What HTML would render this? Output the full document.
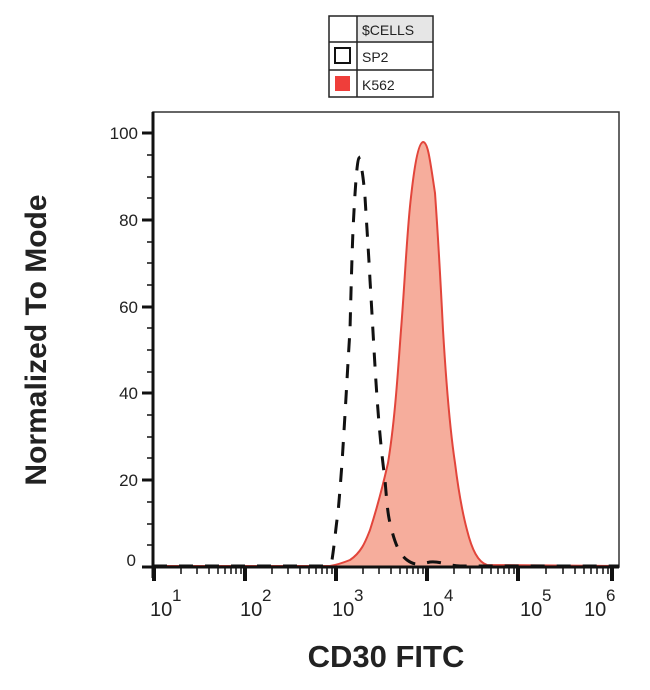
<!DOCTYPE html>
<html><head><meta charset="utf-8"><style>
html,body{margin:0;padding:0;background:#fff;}
svg{display:block;font-family:"Liberation Sans",sans-serif;}
</style></head><body>
<svg width="650" height="690" viewBox="0 0 650 690" xmlns="http://www.w3.org/2000/svg">
<g stroke="#222" stroke-width="1.5" fill="none">
<rect x="329" y="16" width="104" height="81"/>
<line x1="329" y1="42" x2="433" y2="42"/>
<line x1="329" y1="70" x2="433" y2="70"/>
<line x1="357" y1="16" x2="357" y2="97"/>
</g>
<rect x="358" y="17" width="74" height="24" fill="#e6e6e6"/>
<rect x="335" y="48" width="15" height="15" fill="#fff" stroke="#111" stroke-width="2"/>
<rect x="335" y="76" width="15" height="15" fill="#ef3e3a"/>
<g font-size="14" fill="#222">
<text x="362" y="35">$CELLS</text>
<text x="362" y="62">SP2</text>
<text x="362" y="90">K562</text>
</g>
<rect x="153" y="112" width="466" height="455" fill="none" stroke="#333" stroke-width="1.5"/>
<path d="M153,566 L330,566 C336,565 340,564 350,560 C362,552 366,540 370,530 C378,505 383,485 388,463 C395,420 398,370 401,330 C405,280 407,230 411,197 C414,170 418,143 423,142 C428,142 430,160 435,193 C439,250 441,290 443,330 C446,380 450,430 455,463 C459,495 463,515 467,530 C472,550 478,562 487,565 L619,566" fill="#f6ad9c" stroke="#e2453b" stroke-width="2"/>
<path d="M153,566 L325,566 C329,565 330,563 332,560 C335,540 336,525 338,513 C340,490 342,465 343,447 C346,400 348,360 350,330 C351,290 352,255 353,230 C355,190 357,160 359,158 C362,165 364,185 365,197 C367,230 369,260 370,280 C373,330 375,370 377,397 C380,440 383,465 385,480 C387,505 388,515 390,523 C395,545 400,555 407,560 C415,566 420,564 430,562 C440,561 445,565 460,566 L619,566" fill="none" stroke="#111" stroke-width="3" stroke-dasharray="14,12"/>
<line x1="153" y1="112" x2="153" y2="578" stroke="#111" stroke-width="3"/>
<line x1="142" y1="567" x2="619" y2="567" stroke="#111" stroke-width="3"/>
<g stroke="#111" stroke-width="3">
<line x1="142" y1="133" x2="153" y2="133"/><line x1="142" y1="220" x2="153" y2="220"/>
<line x1="142" y1="307" x2="153" y2="307"/><line x1="142" y1="393" x2="153" y2="393"/>
<line x1="142" y1="480" x2="153" y2="480"/>
</g>
<g stroke="#111" stroke-width="1.5">
<line x1="147" y1="155" x2="153" y2="155"/><line x1="147" y1="177" x2="153" y2="177"/><line x1="147" y1="198" x2="153" y2="198"/>
<line x1="147" y1="242" x2="153" y2="242"/><line x1="147" y1="263" x2="153" y2="263"/><line x1="147" y1="285" x2="153" y2="285"/>
<line x1="147" y1="328" x2="153" y2="328"/><line x1="147" y1="350" x2="153" y2="350"/><line x1="147" y1="372" x2="153" y2="372"/>
<line x1="147" y1="415" x2="153" y2="415"/><line x1="147" y1="437" x2="153" y2="437"/><line x1="147" y1="458" x2="153" y2="458"/>
<line x1="147" y1="502" x2="153" y2="502"/><line x1="147" y1="524" x2="153" y2="524"/><line x1="147" y1="545" x2="153" y2="545"/>
</g>
<g font-size="17" fill="#222" text-anchor="end">
<text x="138" y="139">100</text><text x="138" y="226">80</text><text x="138" y="313">60</text>
<text x="138" y="399">40</text><text x="138" y="486">20</text><text x="136" y="566">0</text>
</g>
<g stroke="#111" stroke-width="4">
<line x1="154" y1="567" x2="154" y2="581"/><line x1="245" y1="567" x2="245" y2="581"/>
<line x1="336" y1="567" x2="336" y2="581"/><line x1="427" y1="567" x2="427" y2="581"/>
<line x1="518" y1="567" x2="518" y2="581"/><line x1="612" y1="567" x2="612" y2="581"/>
</g>
<g stroke="#111" stroke-width="1.5">
<line x1="181" y1="567" x2="181" y2="574"/><line x1="197" y1="567" x2="197" y2="574"/><line x1="209" y1="567" x2="209" y2="574"/><line x1="218" y1="567" x2="218" y2="574"/><line x1="225" y1="567" x2="225" y2="574"/><line x1="231" y1="567" x2="231" y2="574"/><line x1="236" y1="567" x2="236" y2="574"/><line x1="241" y1="567" x2="241" y2="574"/>
<line x1="272" y1="567" x2="272" y2="574"/><line x1="288" y1="567" x2="288" y2="574"/><line x1="300" y1="567" x2="300" y2="574"/><line x1="309" y1="567" x2="309" y2="574"/><line x1="316" y1="567" x2="316" y2="574"/><line x1="322" y1="567" x2="322" y2="574"/><line x1="327" y1="567" x2="327" y2="574"/><line x1="332" y1="567" x2="332" y2="574"/>
<line x1="363" y1="567" x2="363" y2="574"/><line x1="379" y1="567" x2="379" y2="574"/><line x1="391" y1="567" x2="391" y2="574"/><line x1="400" y1="567" x2="400" y2="574"/><line x1="407" y1="567" x2="407" y2="574"/><line x1="413" y1="567" x2="413" y2="574"/><line x1="418" y1="567" x2="418" y2="574"/><line x1="423" y1="567" x2="423" y2="574"/>
<line x1="454" y1="567" x2="454" y2="574"/><line x1="470" y1="567" x2="470" y2="574"/><line x1="482" y1="567" x2="482" y2="574"/><line x1="491" y1="567" x2="491" y2="574"/><line x1="498" y1="567" x2="498" y2="574"/><line x1="504" y1="567" x2="504" y2="574"/><line x1="509" y1="567" x2="509" y2="574"/><line x1="514" y1="567" x2="514" y2="574"/>
<line x1="546" y1="567" x2="546" y2="574"/><line x1="563" y1="567" x2="563" y2="574"/><line x1="575" y1="567" x2="575" y2="574"/><line x1="584" y1="567" x2="584" y2="574"/><line x1="591" y1="567" x2="591" y2="574"/><line x1="597" y1="567" x2="597" y2="574"/><line x1="603" y1="567" x2="603" y2="574"/><line x1="608" y1="567" x2="608" y2="574"/>
</g>
<g font-size="20" fill="#222">
<text x="150" y="616">10</text><text x="172" y="601" font-size="17">1</text>
<text x="240" y="616">10</text><text x="262" y="601" font-size="17">2</text>
<text x="332" y="616">10</text><text x="354" y="601" font-size="17">3</text>
<text x="422" y="616">10</text><text x="444" y="601" font-size="17">4</text>
<text x="520" y="616">10</text><text x="542" y="601" font-size="17">5</text>
<text x="584" y="616">10</text><text x="606" y="601" font-size="17">6</text>
</g>
<text x="386" y="667" font-size="31" font-weight="bold" fill="#222" text-anchor="middle">CD30 FITC</text>
<text transform="translate(46,340) rotate(-90)" font-size="30" font-weight="bold" fill="#222" text-anchor="middle">Normalized To Mode</text>
</svg>
</body></html>
